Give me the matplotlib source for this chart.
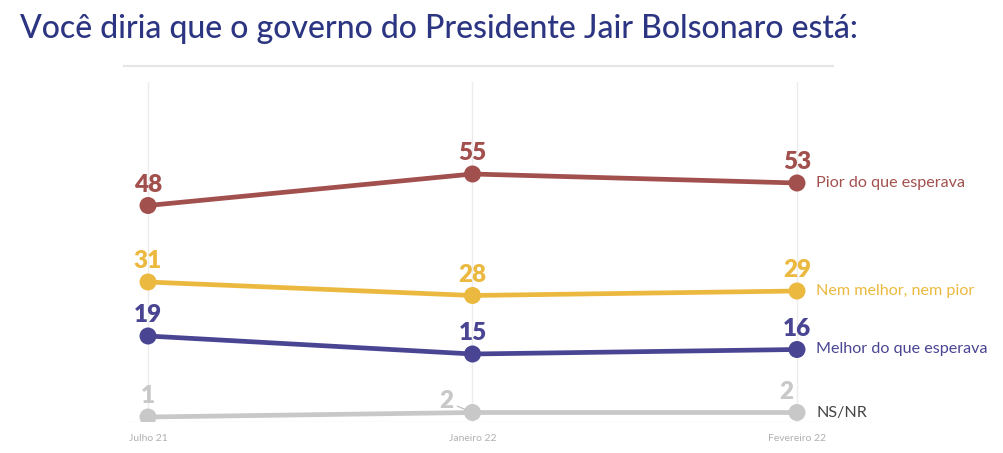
import matplotlib.pyplot as plt

periods = ["Julho 21", "Janeiro 22", "Fevereiro 22"]
pior = [48, 55, 53]
nem = [31, 28, 29]
melhor = [19, 15, 16]
nsnr = [1, 2, 2]

series = [
    ("Pior do que esperava", pior, "#a2504d", "#a2504d"),
    ("Nem melhor, nem pior", nem, "#ecb940", "#ecb940"),
    ("Melhor do que esperava", melhor, "#4a4593", "#4a4593"),
    ("NS/NR", nsnr, "#c8c8c8", "#444444"),
]

plt.rcParams['font.family'] = ['Lato', 'DejaVu Sans']

fig = plt.figure(figsize=(10.04, 4.53), dpi=100)
ax = fig.add_axes([124 / 1004, (453 - 421.5) / 453, 709 / 1004, 355.5 / 453])
ax.set_xlim(-0.074, 2.111)
ax.set_ylim(0, 79)

xs = list(range(len(periods)))

# grid lines
for x in xs:
    ax.plot([x, x], [0, 75.5], color="#ececec", lw=1, zorder=0)
ax.axhline(0, color="#ececec", lw=1, zorder=0)
ax.axhline(79, xmin=0, xmax=1, color="#e6e6e6", lw=1.6, zorder=0, clip_on=False)

for name, vals, col, lcol in series:
    ax.plot(xs, vals, color=col, lw=3.4, zorder=2, solid_capstyle="round")
    ax.scatter(xs, vals, s=150, color=col, zorder=3, edgecolors="none")
    for i, v in enumerate(vals):
        dx = 0
        if name == "NS/NR" and i == 1:
            continue
        if name == "NS/NR" and i == 2:
            dx = -8
        ax.annotate(str(v), (xs[i], v), xytext=(dx, 7),
                    textcoords="offset points", ha="center", va="bottom",
                    fontsize=17.5, fontweight="heavy", color=col)
    ax.annotate(name, (xs[-1], vals[-1]), xytext=(14, 0), textcoords="offset points",
                ha="left", va="center", fontsize=11.6, color=lcol)

# leader label for NS/NR at Janeiro 22
ax.annotate(str(nsnr[1]), (xs[1], nsnr[1]), xytext=(-14, 0), textcoords="offset points",
            ha="right", va="bottom", fontsize=17.5, fontweight="heavy", color="#c8c8c8",
            arrowprops=dict(arrowstyle="-", color="#bbbbbb", lw=0.8,
                            shrinkA=1, shrinkB=5))

ax.set_xticks(xs)
ax.set_xticklabels(periods, fontsize=7.5, color="#b0b0b0")
ax.tick_params(axis="x", length=0, pad=9)
ax.set_yticks([])
for s in ax.spines.values():
    s.set_visible(False)

fig.text(20 / 1004, 1 - 29 / 453, "Você diria que o governo do Presidente Jair Bolsonaro está:",
         fontsize=23, fontweight="medium", color="#2c3582", ha="left", va="center")

fig.savefig("out.png", dpi=100, facecolor="white")
